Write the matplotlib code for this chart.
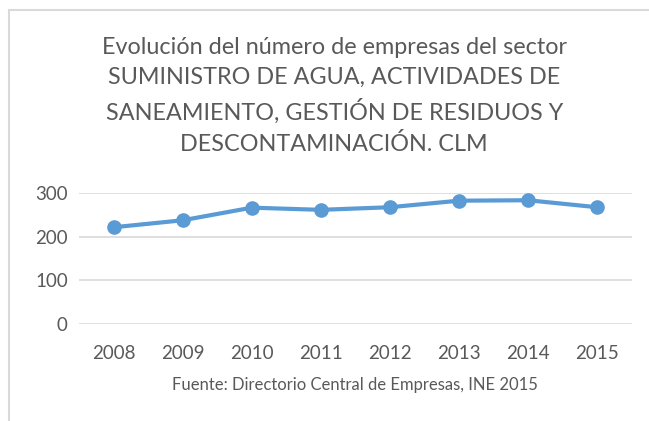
import matplotlib
matplotlib.use("Agg")
import matplotlib.pyplot as plt
from matplotlib.patches import Rectangle

plt.rcParams['font.family'] = ['Lato', 'DejaVu Sans']

years = ['2008', '2009', '2010', '2011', '2012', '2013', '2014', '2015']
empresas = [222, 238, 267, 262, 268, 283, 284, 268]
yticks = [0, 100, 200, 300]

titulo = ("Evolución del número de empresas del sector\n"
          "SUMINISTRO DE AGUA, ACTIVIDADES DE\n"
          "SANEAMIENTO, GESTIÓN DE RESIDUOS Y\n"
          "DESCONTAMINACIÓN. CLM")
fuente = "Fuente: Directorio Central de Empresas, INE 2015"

gris = '#595959'
azul = '#5B9BD5'

fig = plt.figure(figsize=(6.49, 4.21), dpi=100)

# marco del gráfico
fig.patches.append(Rectangle((9 / 649, -0.1), 1.2, 1 - 10 / 421 + 0.1,
                             transform=fig.transFigure, fill=False,
                             edgecolor='#D9D9D9', linewidth=1.5))

ax = fig.add_axes([0.1217, 0.2304, 0.8516, 0.3105])
x = range(len(years))
ax.plot(x, empresas, color=azul, linewidth=3, marker='o', markersize=9.5,
        clip_on=False, zorder=3)

ax.set_xlim(-0.5, len(years) - 0.5)
ax.set_ylim(0, 300)
ax.set_yticks(yticks)
ax.set_xticks(list(x))
ax.set_xticklabels(years)
ax.grid(axis='y', color='#D9D9D9', linewidth=1.2)
ax.set_axisbelow(True)
for s in ax.spines.values():
    s.set_visible(False)
ax.tick_params(length=0, colors=gris, labelsize=13.5)
ax.tick_params(axis='y', pad=8)
ax.tick_params(axis='x', pad=15)

fig.text(0.515, 1 - 96 / 421, titulo, ha='center', va='center',
         fontsize=16.8, color=gris, linespacing=1.5)
fig.text(0.547, 1 - 385 / 421, fuente, ha='center', va='center',
         fontsize=12, color=gris)

fig.savefig('out.png', dpi=100)
